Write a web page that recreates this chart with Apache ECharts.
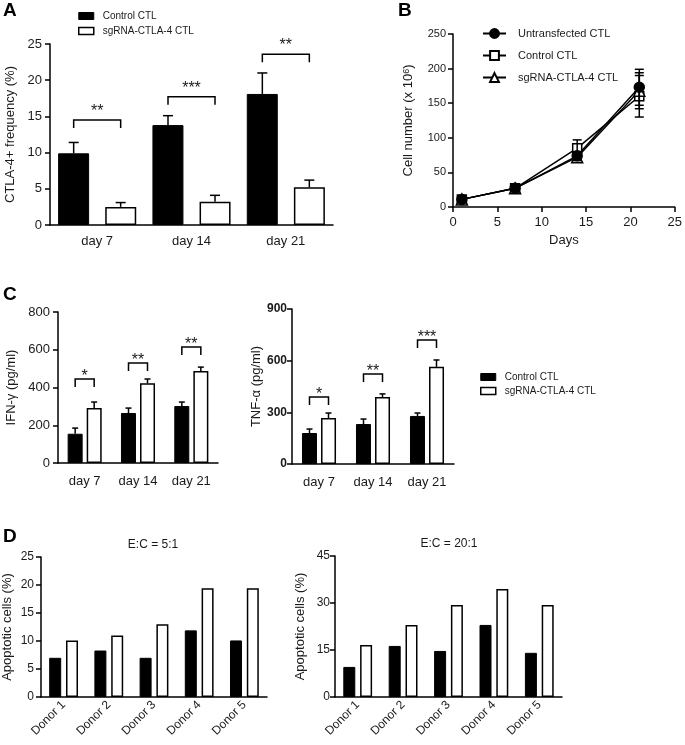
<!DOCTYPE html>
<html><head><meta charset="utf-8">
<script src="https://cdn.jsdelivr.net/npm/echarts@6/dist/echarts.min.js"></script>
<style>html,body{margin:0;padding:0;background:#fff}#c{width:685px;height:745px}</style>
</head><body><div id="c"></div>
<script>
// ---------- Panel A: CTLA-4+ frequency ----------
const days = ['day 7', 'day 14', 'day 21'];
const ctlaControl = [9.9, 13.8, 18.1];
const ctlaControlErr = [1.5, 1.3, 2.9];
const ctlaSg = [2.5, 3.2, 5.2];
const ctlaSgErr = [0.6, 0.9, 1.0];
const ctlaSigLevel = [14.5, 17.7, 23.6];
const ctlaSigLabel = ['**', '***', '**'];

// ---------- Panel B: cell number ----------
const growthDays = [1, 7, 14, 21];
const untrans = [11, 27, 74, 173];
const untransErr = [2, 3, 6, 26];
const controlGrowth = [11, 27, 85, 160];
const controlGrowthErr = [2, 3, 12, 30];
const sgGrowth = [11, 27, 72, 168];
const sgGrowthErr = [2, 3, 5, 26];

// ---------- Panel C: IFN-gamma / TNF-alpha ----------
const ifnControl = [155, 265, 302];
const ifnControlErr = [30, 26, 21];
const ifnSg = [291, 422, 487];
const ifnSgErr = [32, 23, 21];
const ifnSigLevel = [445, 530, 615];
const ifnSigLabel = ['*', '**', '**'];

const tnfControl = [180, 232, 279];
const tnfControlErr = [23, 29, 17];
const tnfSg = [267, 389, 564];
const tnfSgErr = [29, 18, 40];
const tnfSigLevel = [389, 523, 720];
const tnfSigLabel = ['*', '**', '***'];

// ---------- Panel D: apoptotic cells ----------
const donors = ['Donor 1', 'Donor 2', 'Donor 3', 'Donor 4', 'Donor 5'];
const apo5Control = [7.0, 8.3, 7.0, 11.9, 10.1];
const apo5Sg = [10.1, 11.0, 13.0, 19.4, 19.4];
const apo20Control = [9.6, 16.3, 14.7, 23.0, 14.1];
const apo20Sg = [16.6, 23.0, 29.4, 34.5, 29.4];

const FONT = '"Liberation Sans", Arial, Helvetica, sans-serif';
const TXT = '#1a1a1a';
const AX = { color: '#000', width: 1.5 };

const grids = [
  { left: 50, top: 44, width: 283, height: 181 },   // A
  { left: 453, top: 34, width: 224, height: 173 },  // B
  { left: 58, top: 312, width: 160, height: 151 },  // C1
  { left: 292, top: 309, width: 162, height: 155 }, // C2
  { left: 40, top: 557, width: 227, height: 140 },  // D1
  { left: 335, top: 556, width: 227, height: 141 }  // D2
];

function catAxis(gi, data, fs, margin, rotate) {
  return {
    type: 'category', gridIndex: gi, data: data,
    axisLine: { lineStyle: AX },
    axisTick: { alignWithLabel: true, length: 5, lineStyle: AX },
    axisLabel: { color: TXT, fontSize: fs, fontFamily: FONT, margin: margin, rotate: rotate || 0, interval: 0 }
  };
}
function valAxis(gi, min, max, interval, name, gap, fs, margin, bold) {
  return {
    type: 'value', gridIndex: gi, min: min, max: max, interval: interval,
    splitLine: { show: false },
    axisLine: { show: true, lineStyle: AX },
    axisTick: { show: true, length: 5, lineStyle: AX },
    axisLabel: { color: TXT, fontSize: fs, fontFamily: FONT, margin: margin, fontWeight: bold ? 'bold' : 'normal' },
    name: name, nameLocation: 'middle', nameGap: gap,
    nameTextStyle: { color: TXT, fontSize: 13, fontFamily: FONT,
      rich: { sup: { fontSize: 9, verticalAlign: 'top', fontFamily: FONT, color: TXT } } }
  };
}
function barPair(gi, ctrl, sg, bw, gap) {
  return [
    { type: 'bar', name: 'Control CTL', xAxisIndex: gi, yAxisIndex: gi, data: ctrl,
      barWidth: bw, barGap: gap, itemStyle: { color: '#000', borderColor: '#000', borderWidth: 1 }, z: 2 },
    { type: 'bar', name: 'sgRNA-CTLA-4 CTL', xAxisIndex: gi, yAxisIndex: gi, data: sg,
      barWidth: bw, barGap: gap, itemStyle: { color: '#fff', borderColor: '#000', borderWidth: 1.5 }, z: 2 }
  ];
}
function errUp(gi, vals, errs, offset, cap) {
  return {
    type: 'custom', xAxisIndex: gi, yAxisIndex: gi, silent: true, z: 1,
    data: vals.map((v, i) => [i, v, v + errs[i]]),
    renderItem: function (params, api) {
      const p0 = api.coord([api.value(0), api.value(1)]);
      const p1 = api.coord([api.value(0), api.value(2)]);
      const x = p0[0] + offset;
      return { type: 'group', children: [
        { type: 'line', shape: { x1: x, y1: p0[1], x2: x, y2: p1[1] }, style: { stroke: '#000', lineWidth: 1.5 } },
        { type: 'line', shape: { x1: x - cap / 2, y1: p1[1], x2: x + cap / 2, y2: p1[1] }, style: { stroke: '#000', lineWidth: 1.5 } }
      ] };
    }
  };
}
function sig(gi, levels, labels, half, leg, fs, textOff) {
  return {
    type: 'custom', xAxisIndex: gi, yAxisIndex: gi, silent: true, z: 5,
    data: levels.map((l, i) => [i, l]),
    renderItem: function (params, api) {
      const p = api.coord([api.value(0), api.value(1)]);
      const x1 = p[0] - half, x2 = p[0] + half, y = p[1];
      return { type: 'group', children: [
        { type: 'polyline', shape: { points: [[x1, y + leg], [x1, y], [x2, y], [x2, y + leg]] },
          style: { stroke: '#000', lineWidth: 1.5, fill: 'none' } },
        { type: 'text', x: p[0], y: y - textOff,
          style: { text: labels[params.dataIndex], fontSize: fs, fontFamily: FONT, fill: TXT, align: 'center', verticalAlign: 'middle' } }
      ] };
    }
  };
}
function lineSeries(name, vals, symbol, size, fill, z) {
  return {
    type: 'line', name: name, xAxisIndex: 1, yAxisIndex: 1,
    data: growthDays.map((d, i) => [d, vals[i]]),
    symbol: symbol, symbolSize: size, showSymbol: true,
    lineStyle: { color: '#000', width: 1.5 },
    itemStyle: { color: fill, borderColor: '#000', borderWidth: 1.5 }, z: z
  };
}
function rangeErr(vals, errs, cap) {
  return {
    type: 'custom', xAxisIndex: 1, yAxisIndex: 1, silent: true, z: 5,
    data: growthDays.map((d, i) => [d, vals[i] - errs[i], vals[i] + errs[i]]),
    encode: { x: 0, y: [1, 2] },
    renderItem: function (params, api) {
      const lo = api.coord([api.value(0), api.value(1)]);
      const hi = api.coord([api.value(0), api.value(2)]);
      const x = lo[0];
      const st = { stroke: '#000', lineWidth: 1.5 };
      return { type: 'group', children: [
        { type: 'line', shape: { x1: x, y1: lo[1], x2: x, y2: hi[1] }, style: st },
        { type: 'line', shape: { x1: x - cap / 2, y1: lo[1], x2: x + cap / 2, y2: lo[1] }, style: st },
        { type: 'line', shape: { x1: x - cap / 2, y1: hi[1], x2: x + cap / 2, y2: hi[1] }, style: st }
      ] };
    }
  };
}

const barLegendData = [
  { name: 'Control CTL', itemStyle: { color: '#000', borderColor: '#000', borderWidth: 1 } },
  { name: 'sgRNA-CTLA-4 CTL', itemStyle: { color: '#fff', borderColor: '#000', borderWidth: 1.5 } }
];

const series = [].concat(
  // B first (legend B picks these)
  [lineSeries('Untransfected CTL', untrans, 'circle', 10, '#000', 4),
   lineSeries('Control CTL', controlGrowth, 'rect', 9, '#fff', 3),
   lineSeries('sgRNA-CTLA-4 CTL', sgGrowth, 'triangle', 11, '#fff', 3),
   rangeErr(untrans, untransErr, 9),
   rangeErr(controlGrowth, controlGrowthErr, 9),
   rangeErr(sgGrowth, sgGrowthErr, 9)],
  // A
  barPair(0, ctlaControl, ctlaSg, 31, '52%'),
  [errUp(0, ctlaControl, ctlaControlErr, -23.5, 10), errUp(0, ctlaSg, ctlaSgErr, 23.5, 10),
   sig(0, ctlaSigLevel, ctlaSigLabel, 23.5, 8, 16, 8.5)],
  // C1
  barPair(2, ifnControl, ifnSg, 15, '27%'),
  [errUp(2, ifnControl, ifnControlErr, -9.5, 6), errUp(2, ifnSg, ifnSgErr, 9.5, 6),
   sig(2, ifnSigLevel, ifnSigLabel, 9.5, 8, 16, 2.5)],
  // C2
  barPair(3, tnfControl, tnfSg, 15, '27%'),
  [errUp(3, tnfControl, tnfControlErr, -9.5, 6), errUp(3, tnfSg, tnfSgErr, 9.5, 6),
   sig(3, tnfSigLevel, tnfSigLabel, 9.5, 8, 16, 2.5)],
  // D
  barPair(4, apo5Control, apo5Sg, 12, '40%'),
  barPair(5, apo20Control, apo20Sg, 12, '40%')
);

const option = {
  backgroundColor: '#fff',
  animation: false,
  grid: grids,
  xAxis: [
    catAxis(0, days, 13, 10),
    { type: 'value', gridIndex: 1, min: 0, max: 25, interval: 5, splitLine: { show: false },
      axisLine: { lineStyle: AX }, axisTick: { length: 5, lineStyle: AX },
      axisLabel: { color: TXT, fontSize: 13, fontFamily: FONT, margin: 9 },
      name: 'Days', nameLocation: 'middle', nameGap: 27,
      nameTextStyle: { color: TXT, fontSize: 13, fontFamily: FONT } },
    catAxis(2, days, 13, 12),
    catAxis(3, days, 13, 12),
    catAxis(4, donors, 12, 6, 45),
    catAxis(5, donors, 12, 6, 45)
  ],
  yAxis: [
    valAxis(0, 0, 25, 5, 'CTLA-4+ frequency (%)', 33, 13, 8),
    valAxis(1, 0, 250, 50, 'Cell number (x 10{sup|6})', 38, 11, 7),
    valAxis(2, 0, 800, 200, 'IFN-γ (pg/ml)', 40, 13, 8),
    valAxis(3, 0, 900, 300, 'TNF-α (pg/ml)', 29, 12, 5, true),
    valAxis(4, 0, 25, 5, 'Apoptotic cells (%)', 27, 12, 7),
    valAxis(5, 0, 45, 15, 'Apoptotic cells (%)', 28, 12, 5)
  ],
  legend: [
    { left: 73, top: 6, orient: 'vertical', itemWidth: 15, itemHeight: 7, itemGap: 5, icon: 'rect',
      selectedMode: false, textStyle: { fontSize: 10, fontFamily: FONT, color: TXT, padding: [0, 0, 0, 4] },
      data: barLegendData },
    { left: 477, top: 23, orient: 'vertical', itemWidth: 23, itemHeight: 11, itemGap: 11,
      selectedMode: false, textStyle: { fontSize: 11, fontFamily: FONT, color: TXT, padding: [0, 0, 0, 7] },
      data: ['Untransfected CTL', 'Control CTL', 'sgRNA-CTLA-4 CTL'] },
    { left: 475, top: 367, orient: 'vertical', itemWidth: 15, itemHeight: 7, itemGap: 4, icon: 'rect',
      selectedMode: false, textStyle: { fontSize: 10, fontFamily: FONT, color: TXT, padding: [0, 0, 0, 4] },
      data: barLegendData }
  ],
  graphic: [
    { type: 'text', x: 3, y: 11, style: { text: 'A', font: 'bold 19px ' + FONT, fill: '#000', verticalAlign: 'middle' } },
    { type: 'text', x: 398, y: 11, style: { text: 'B', font: 'bold 19px ' + FONT, fill: '#000', verticalAlign: 'middle' } },
    { type: 'text', x: 3, y: 295, style: { text: 'C', font: 'bold 19px ' + FONT, fill: '#000', verticalAlign: 'middle' } },
    { type: 'text', x: 3, y: 537, style: { text: 'D', font: 'bold 19px ' + FONT, fill: '#000', verticalAlign: 'middle' } },
    { type: 'text', x: 153, y: 545, style: { text: 'E:C = 5:1', font: '12px ' + FONT, fill: TXT, align: 'center', verticalAlign: 'middle' } },
    { type: 'text', x: 449, y: 544, style: { text: 'E:C = 20:1', font: '12px ' + FONT, fill: TXT, align: 'center', verticalAlign: 'middle' } }
  ],
  series: series
};

const chart = echarts.init(document.getElementById('c'), null, { renderer: 'canvas' });
chart.setOption(option);
</script>
</body></html>
